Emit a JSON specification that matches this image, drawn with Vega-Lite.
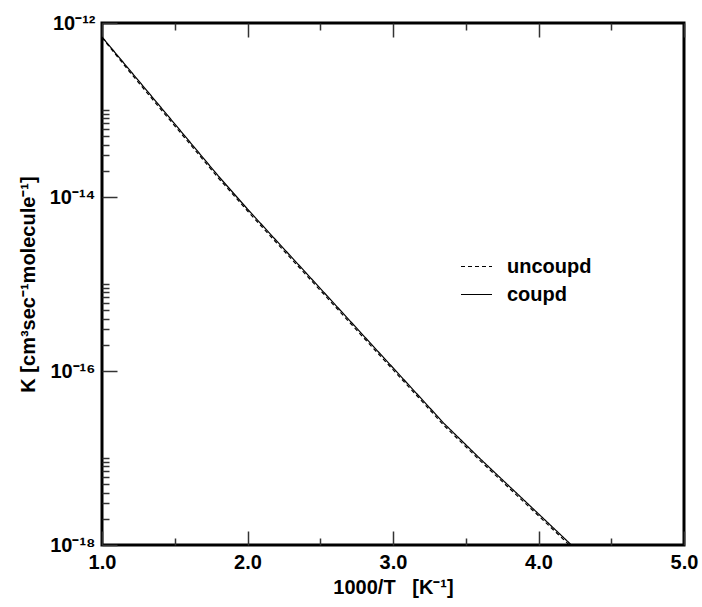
{
  "$schema": "https://vega.github.io/schema/vega-lite/v6.json",
  "autosize": "none",
  "width": 582,
  "height": 522,
  "padding": {"left": 102, "top": 23, "right": 18, "bottom": 62},
  "background": "white",
  "config": {
    "view": {"stroke": "black", "strokeWidth": 3},
    "font": "Liberation Sans",
    "axis": {"domain": false, "grid": false, "tickColor": "#333", "tickWidth": 1.5}
  },
  "data": {
    "values": [
      {"x": 1.0, "K": 6.92e-13, "series": "coupd"},
      {"x": 1.2, "K": 2.75e-13, "series": "coupd"},
      {"x": 1.4, "K": 1.096e-13, "series": "coupd"},
      {"x": 1.6, "K": 4.37e-14, "series": "coupd"},
      {"x": 1.8, "K": 1.74e-14, "series": "coupd"},
      {"x": 2.0, "K": 7.26e-15, "series": "coupd"},
      {"x": 2.2, "K": 3.13e-15, "series": "coupd"},
      {"x": 2.4, "K": 1.355e-15, "series": "coupd"},
      {"x": 2.6, "K": 5.85e-16, "series": "coupd"},
      {"x": 2.8, "K": 2.52e-16, "series": "coupd"},
      {"x": 3.0, "K": 1.089e-16, "series": "coupd"},
      {"x": 3.2, "K": 4.70e-17, "series": "coupd"},
      {"x": 3.35, "K": 2.50e-17, "series": "coupd"},
      {"x": 3.6, "K": 9.77e-18, "series": "coupd"},
      {"x": 3.8, "K": 4.72e-18, "series": "coupd"},
      {"x": 4.0, "K": 2.28e-18, "series": "coupd"},
      {"x": 4.2, "K": 1.10e-18, "series": "coupd"},
      {"x": 4.3, "K": 7.66e-19, "series": "coupd"},
      {"x": 1.0, "K": 6.8e-13, "series": "uncoupd"},
      {"x": 1.2, "K": 2.62e-13, "series": "uncoupd"},
      {"x": 1.4, "K": 1.04e-13, "series": "uncoupd"},
      {"x": 1.6, "K": 4.15e-14, "series": "uncoupd"},
      {"x": 1.8, "K": 1.65e-14, "series": "uncoupd"},
      {"x": 2.0, "K": 6.9e-15, "series": "uncoupd"},
      {"x": 2.2, "K": 2.97e-15, "series": "uncoupd"},
      {"x": 2.4, "K": 1.287e-15, "series": "uncoupd"},
      {"x": 2.6, "K": 5.56e-16, "series": "uncoupd"},
      {"x": 2.8, "K": 2.39e-16, "series": "uncoupd"},
      {"x": 3.0, "K": 1.035e-16, "series": "uncoupd"},
      {"x": 3.2, "K": 4.47e-17, "series": "uncoupd"},
      {"x": 3.35, "K": 2.37e-17, "series": "uncoupd"},
      {"x": 3.6, "K": 9.28e-18, "series": "uncoupd"},
      {"x": 3.8, "K": 4.48e-18, "series": "uncoupd"},
      {"x": 4.0, "K": 2.17e-18, "series": "uncoupd"},
      {"x": 4.2, "K": 1.045e-18, "series": "uncoupd"},
      {"x": 4.3, "K": 7.28e-19, "series": "uncoupd"}
    ]
  },
  "resolve": {"axis": {"x": "independent", "y": "independent"}},
  "layer": [
    {
      "mark": {"type": "line", "color": "black", "strokeWidth": 1.2, "clip": true},
      "encoding": {
        "x": {
          "field": "x", "type": "quantitative",
          "scale": {"domain": [1, 5], "nice": false, "zero": false},
          "axis": {
            "orient": "bottom",
            "values": [1, 2, 3, 4, 5],
            "format": ".1f",
            "tickSize": -14,
            "labelFont": "Liberation Sans", "labelFontWeight": "bold", "labelFontSize": 20, "labelColor": "black",
            "labelPadding": 21, "labelOverlap": false, "labelFlush": false, "labelBound": false,
            "title": "1000/T\u00a0\u00a0 [K⁻¹]",
            "titleFont": "Liberation Sans", "titleFontWeight": "bold", "titleFontSize": 20, "titleColor": "black",
            "titlePadding": 5
          }
        },
        "y": {
          "field": "K", "type": "quantitative",
          "scale": {"type": "log", "domain": [1e-18, 1e-12], "nice": false},
          "axis": {
            "orient": "left",
            "values": [1e-18, 1e-16, 1e-14, 1e-12],
            "labelExpr": "abs(datum.value/1e-12 - 1) < 1e-6 ? '10⁻¹²' : abs(datum.value/1e-14 - 1) < 1e-6 ? '10⁻¹⁴' : abs(datum.value/1e-16 - 1) < 1e-6 ? '10⁻¹⁶' : '10⁻¹⁸'",
            "tickSize": -15,
            "labelFont": "Liberation Sans", "labelFontWeight": "bold", "labelFontSize": 20, "labelColor": "black",
            "labelPadding": 22, "labelOverlap": false, "labelBound": false, "labelFlush": false,
            "title": "K [cm³sec⁻¹molecule⁻¹]",
            "titleFont": "Liberation Sans", "titleFontWeight": "bold", "titleFontSize": 20, "titleColor": "black",
            "titlePadding": 11
          }
        },
        "strokeDash": {
          "field": "series", "type": "nominal",
          "scale": {"domain": ["uncoupd", "coupd"], "range": [[4, 3], [1, 0]]},
          "legend": {
            "title": null, "orient": "none", "legendX": 358, "legendY": 227,
            "padding": 0, "symbolType": "stroke", "symbolSize": 961, "symbolStrokeWidth": 1.2,
            "symbolStrokeColor": "black",
            "labelFont": "Liberation Sans", "labelFontWeight": "bold", "labelFontSize": 20, "labelColor": "black",
            "labelOffset": 14, "rowPadding": 1
          }
        }
      }
    },
    {
      "mark": {"type": "line", "opacity": 0, "clip": true},
      "encoding": {
        "x": {
          "field": "x", "type": "quantitative",
          "axis": {"orient": "top", "values": [1, 2, 3, 4, 5], "labels": false, "tickSize": -14, "title": null}
        },
        "y": {
          "field": "K", "type": "quantitative",
          "axis": {"orient": "left", "values": [1e-17, 2e-18, 3e-18, 4e-18, 5e-18, 6e-18, 7e-18, 8e-18, 9e-18,
                       1e-15, 2e-16, 3e-16, 4e-16, 5e-16, 6e-16, 7e-16, 8e-16, 9e-16,
                       1e-13, 2e-14, 3e-14, 4e-14, 5e-14, 6e-14, 7e-14, 8e-14, 9e-14],
                   "labels": false, "tickSize": -7, "title": null}
        },
        "detail": {"field": "series", "type": "nominal"}
      }
    },
    {
      "mark": {"type": "line", "opacity": 0, "clip": true},
      "encoding": {
        "x": {
          "field": "x", "type": "quantitative",
          "axis": {"orient": "bottom", "values": [1.5, 2.5, 3.5, 4.5], "labels": false, "tickSize": -7, "title": null}
        },
        "y": {"field": "K", "type": "quantitative", "axis": null},
        "detail": {"field": "series", "type": "nominal"}
      }
    },
    {
      "mark": {"type": "line", "opacity": 0, "clip": true},
      "encoding": {
        "x": {
          "field": "x", "type": "quantitative",
          "axis": {"orient": "top", "values": [1.5, 2.5, 3.5, 4.5], "labels": false, "tickSize": -7, "title": null}
        },
        "y": {"field": "K", "type": "quantitative", "axis": null},
        "detail": {"field": "series", "type": "nominal"}
      }
    }
  ]
}
